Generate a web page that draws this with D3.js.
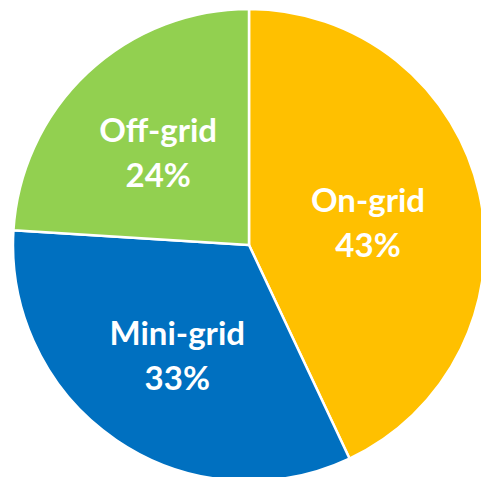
<!DOCTYPE html>
<html>
<head>
<meta charset="utf-8">
<script src="https://cdn.jsdelivr.net/npm/d3@7"></script>
<style>
  html, body { margin: 0; padding: 0; background: #fff; overflow: hidden; }
  svg { display: block; }
  .lbl { font-family: Lato, "Open Sans", sans-serif; font-weight: bold; fill: #fff; }
</style>
</head>
<body>
<div id="chart"></div>
<script>
// data
const categories = ['On-grid', 'Mini-grid', 'Off-grid']
const shares = [43, 33, 24]
const colors = ['#FFC000', '#0070C0', '#92D050']

const width = 481, height = 477
const cx = 249, cy = 245, radius = 236

const svg = d3.select('#chart').append('svg')
    .attr('width', width)
    .attr('height', height)

const g = svg.append('g')
    .attr('transform', 'translate(' + cx + ',' + cy + ')')

const data = categories.map((c, i) => ({ name: c, value: shares[i], color: colors[i] }))

const pie = d3.pie()
    .value(d => d.value)
    .sort(null)

const arc = d3.arc()
    .innerRadius(0)
    .outerRadius(radius)

const arcs = pie(data)

g.selectAll('path.slice')
    .data(arcs)
    .enter().append('path')
    .attr('class', 'slice')
    .attr('d', arc)
    .attr('fill', d => d.data.color)
    .attr('stroke', '#fff')
    .attr('stroke-width', 2.5)
    .attr('stroke-linejoin', 'round')

// narrower slices push their label a bit further out (like excel does)
function labelPos(d) {
    const span = d.endAngle - d.startAngle
    const r = radius * (0.5 + 0.12 * (1 - span / Math.PI))
    const a = (d.startAngle + d.endAngle) / 2
    return [Math.sin(a) * r, -Math.cos(a) * r]
}

const labels = g.selectAll('text.lbl')
    .data(arcs)
    .enter().append('text')
    .attr('class', 'lbl')
    .attr('text-anchor', 'middle')
    .attr('font-size', 33)
    .attr('transform', d => {
        const c = labelPos(d)
        return 'translate(' + c[0] + ',' + c[1] + ')'
    })

labels.append('tspan')
    .attr('x', 0)
    .attr('y', -6)
    .text(d => d.data.name)

labels.append('tspan')
    .attr('x', 0)
    .attr('y', 39)
    .text(d => d.data.value + '%')
</script>
</body>
</html>
